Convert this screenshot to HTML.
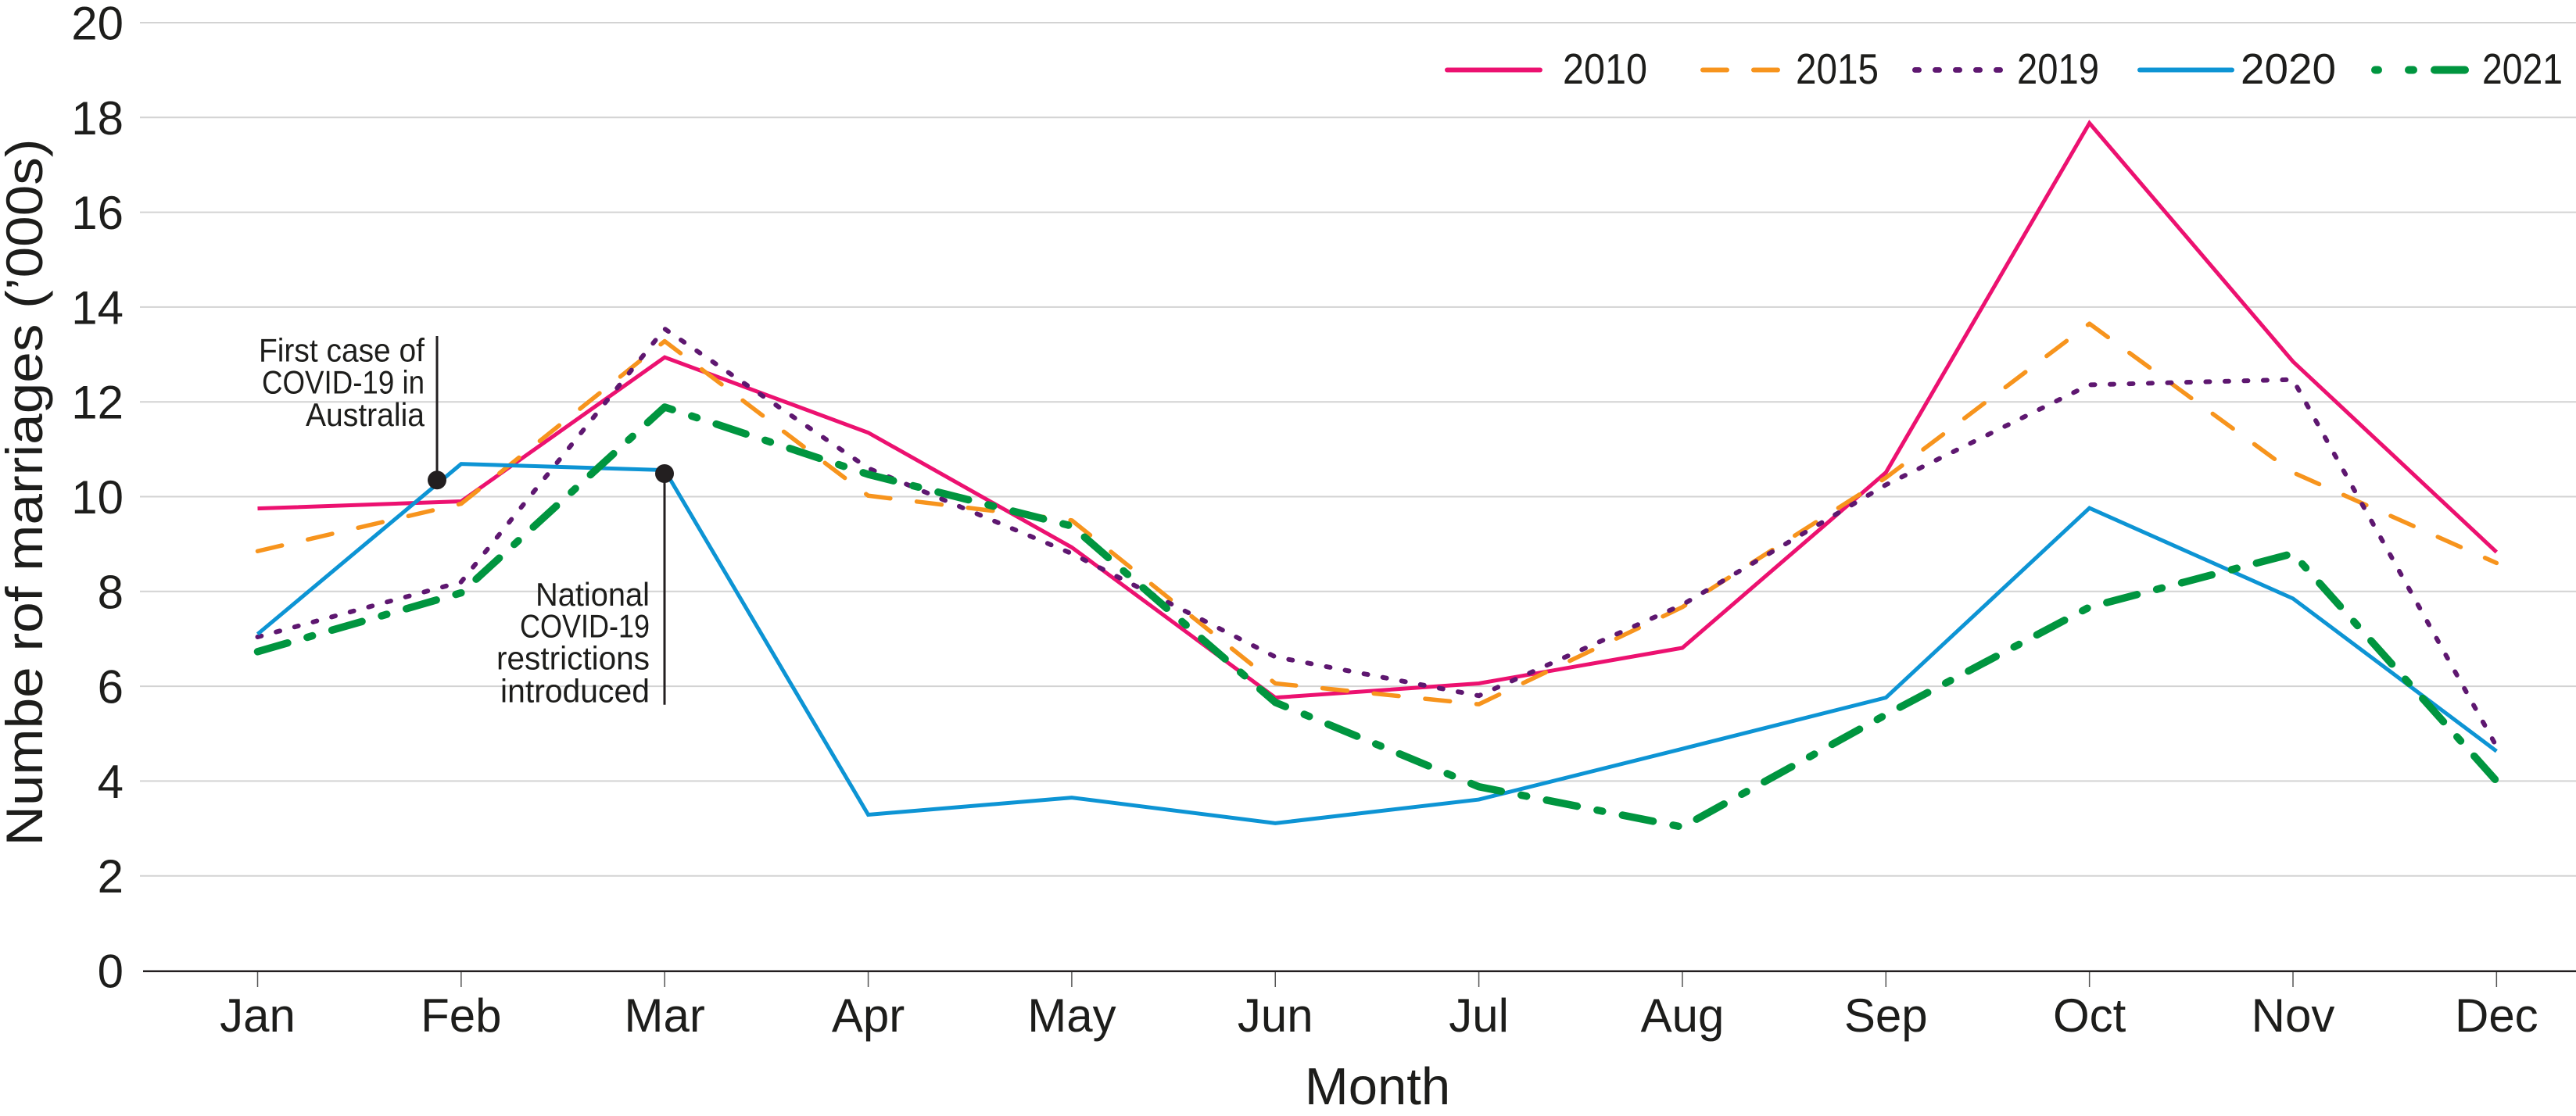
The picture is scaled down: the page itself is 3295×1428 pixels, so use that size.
<!DOCTYPE html>
<html>
<head>
<meta charset="utf-8">
<style>
  html, body { margin: 0; padding: 0; background: #ffffff; }
  svg { display: block; }
  text { font-family: "Liberation Sans", "DejaVu Sans", sans-serif; fill: #1d1d1b; }
</style>
</head>
<body>
<svg width="3295" height="1428" viewBox="0 0 3295 1428" xmlns="http://www.w3.org/2000/svg">
  <rect x="0" y="0" width="3295" height="1428" fill="#ffffff"/>

  <!-- gridlines -->
  <g stroke="#d3d3d3" stroke-width="2">
    <line x1="179" y1="29" x2="3295" y2="29"/>
    <line x1="179" y1="150.3" x2="3295" y2="150.3"/>
    <line x1="179" y1="271.6" x2="3295" y2="271.6"/>
    <line x1="179" y1="392.9" x2="3295" y2="392.9"/>
    <line x1="179" y1="514.2" x2="3295" y2="514.2"/>
    <line x1="179" y1="635.5" x2="3295" y2="635.5"/>
    <line x1="179" y1="756.8" x2="3295" y2="756.8"/>
    <line x1="179" y1="878.1" x2="3295" y2="878.1"/>
    <line x1="179" y1="999.4" x2="3295" y2="999.4"/>
    <line x1="179" y1="1120.7" x2="3295" y2="1120.7"/>
  </g>

  <!-- x axis -->
  <line x1="183" y1="1242.7" x2="3295" y2="1242.7" stroke="#231f20" stroke-width="2.5"/>
  <g stroke="#555555" stroke-width="1.5">
    <line x1="329.5" y1="1244" x2="329.5" y2="1263"/>
    <line x1="589.85" y1="1244" x2="589.85" y2="1263"/>
    <line x1="850.2" y1="1244" x2="850.2" y2="1263"/>
    <line x1="1110.55" y1="1244" x2="1110.55" y2="1263"/>
    <line x1="1370.9" y1="1244" x2="1370.9" y2="1263"/>
    <line x1="1631.25" y1="1244" x2="1631.25" y2="1263"/>
    <line x1="1891.6" y1="1244" x2="1891.6" y2="1263"/>
    <line x1="2151.95" y1="1244" x2="2151.95" y2="1263"/>
    <line x1="2412.3" y1="1244" x2="2412.3" y2="1263"/>
    <line x1="2672.65" y1="1244" x2="2672.65" y2="1263"/>
    <line x1="2933" y1="1244" x2="2933" y2="1263"/>
    <line x1="3193.35" y1="1244" x2="3193.35" y2="1263"/>
  </g>

  <!-- y tick labels -->
  <g font-size="60" text-anchor="end">
    <text x="158" y="50.5">20</text>
    <text x="158" y="171.8">18</text>
    <text x="158" y="293.1">16</text>
    <text x="158" y="414.4">14</text>
    <text x="158" y="535.7">12</text>
    <text x="158" y="657">10</text>
    <text x="158" y="778.3">8</text>
    <text x="158" y="899.6">6</text>
    <text x="158" y="1020.9">4</text>
    <text x="158" y="1142.2">2</text>
    <text x="158" y="1263.5">0</text>
  </g>

  <!-- x tick labels -->
  <g font-size="60" text-anchor="middle">
    <text x="329.5" y="1320">Jan</text>
    <text x="589.85" y="1320">Feb</text>
    <text x="850.2" y="1320">Mar</text>
    <text x="1110.55" y="1320">Apr</text>
    <text x="1370.9" y="1320">May</text>
    <text x="1631.25" y="1320">Jun</text>
    <text x="1891.6" y="1320">Jul</text>
    <text x="2151.95" y="1320">Aug</text>
    <text x="2412.3" y="1320">Sep</text>
    <text x="2672.65" y="1320">Oct</text>
    <text x="2933" y="1320">Nov</text>
    <text x="3193.35" y="1320">Dec</text>
  </g>

  <!-- axis titles -->
  <text x="1762" y="1413" font-size="67" text-anchor="middle">Month</text>
  <text transform="translate(54,630) rotate(-90)" font-size="66" text-anchor="middle" textLength="905" lengthAdjust="spacingAndGlyphs">Numbe rof marriages (’000s)</text>

  <!-- series -->
  <g fill="none">
    <!-- 2010 -->
    <polyline stroke="#ec1170" stroke-width="5" stroke-linejoin="miter"
      points="329.5,650.66 589.85,641.56 850.2,457.19 1110.55,553.62 1370.9,700.40 1631.25,892.66 1891.6,874.46 2151.95,828.97 2412.3,604.57 2672.65,157.58 2933,462.65 3193.35,706.46"/>
    <!-- 2015 -->
    <polyline stroke="#f7941d" stroke-width="5.5" stroke-linecap="round" stroke-linejoin="round" stroke-dasharray="32 34"
      points="329.5,705.25 589.85,644.60 850.2,436.57 1110.55,634.29 1370.9,665.82 1631.25,874.46 1891.6,901.15 2151.95,776.81 2412.3,611.24 2672.65,414.13 2933,604.57 3193.35,720.41"/>
    <!-- 2019 -->
    <polyline stroke="#5e1770" stroke-width="6" stroke-linecap="round" stroke-linejoin="round" stroke-dasharray="5 19.5"
      points="329.5,815.02 589.85,744.67 850.2,420.80 1110.55,599.11 1370.9,708.28 1631.25,840.50 1891.6,890.23 2151.95,773.78 2412.3,620.34 2672.65,492.37 2933,485.69 3193.35,955.13"/>
    <!-- 2020 -->
    <polyline stroke="#0d94d4" stroke-width="5" stroke-linejoin="miter"
      points="329.5,811.38 589.85,593.65 850.2,601.54 1110.55,1042.46 1370.9,1020.63 1631.25,1053.38 1891.6,1023.05 2151.95,958.16 2412.3,892.66 2672.65,650.06 2933,765.90 3193.35,961.19"/>
    <!-- 2021 -->
    <polyline stroke="#00953f" stroke-width="9.5" stroke-linecap="round" stroke-linejoin="round" stroke-dasharray="40 26 7 26"
      points="329.5,833.83 589.85,758.62 850.2,520.87 1110.55,606.99 1370.9,673.10 1631.25,898.72 1891.6,1006.68 2151.95,1058.23 2412.3,914.49 2672.65,776.81 2933,708.28 3193.35,999.40"/>
  </g>

  <!-- annotations -->
  <line x1="559" y1="430" x2="559" y2="614" stroke="#231f20" stroke-width="3"/>
  <circle cx="559" cy="614.3" r="12" fill="#231f20"/>
  <g font-size="42" text-anchor="end">
    <text x="543" y="462.7" textLength="212" lengthAdjust="spacingAndGlyphs">First case of</text>
    <text x="543" y="503.3" textLength="208" lengthAdjust="spacingAndGlyphs">COVID-19 in</text>
    <text x="543" y="545" textLength="152" lengthAdjust="spacingAndGlyphs">Australia</text>
  </g>

  <line x1="850" y1="606" x2="850" y2="901.7" stroke="#231f20" stroke-width="3"/>
  <circle cx="850" cy="606" r="12" fill="#231f20"/>
  <g font-size="42" text-anchor="end">
    <text x="831" y="775" textLength="146" lengthAdjust="spacingAndGlyphs">National</text>
    <text x="831" y="815.5" textLength="166" lengthAdjust="spacingAndGlyphs">COVID-19</text>
    <text x="831" y="856.7" textLength="196" lengthAdjust="spacingAndGlyphs">restrictions</text>
    <text x="831" y="898.3" textLength="191" lengthAdjust="spacingAndGlyphs">introduced</text>
  </g>

  <!-- legend -->
  <g fill="none">
    <line x1="1851" y1="89.5" x2="1970" y2="89.5" stroke="#ec1170" stroke-width="6" stroke-linecap="round"/>
    <line x1="2178" y1="89.5" x2="2275" y2="89.5" stroke="#f7941d" stroke-width="6" stroke-linecap="round" stroke-dasharray="31 34"/>
    <line x1="2449.5" y1="89.5" x2="2558.5" y2="89.5" stroke="#5e1770" stroke-width="7" stroke-linecap="round" stroke-dasharray="5 21"/>
    <line x1="2737" y1="89.5" x2="2855" y2="89.5" stroke="#0d94d4" stroke-width="6" stroke-linecap="round"/>
    <g stroke="#00953f" stroke-width="10" stroke-linecap="round">
      <line x1="3038" y1="89.5" x2="3042" y2="89.5"/>
      <line x1="3081" y1="89.5" x2="3087" y2="89.5"/>
      <line x1="3114" y1="89.5" x2="3153" y2="89.5"/>
    </g>
  </g>
  <g font-size="55">
    <text x="1999" y="107" textLength="108" lengthAdjust="spacingAndGlyphs">2010</text>
    <text x="2297" y="107" textLength="106" lengthAdjust="spacingAndGlyphs">2015</text>
    <text x="2580" y="107" textLength="105" lengthAdjust="spacingAndGlyphs">2019</text>
    <text x="2866" y="107" textLength="122" lengthAdjust="spacingAndGlyphs">2020</text>
    <text x="3175" y="107" textLength="103" lengthAdjust="spacingAndGlyphs">2021</text>
  </g>
</svg>
</body>
</html>
